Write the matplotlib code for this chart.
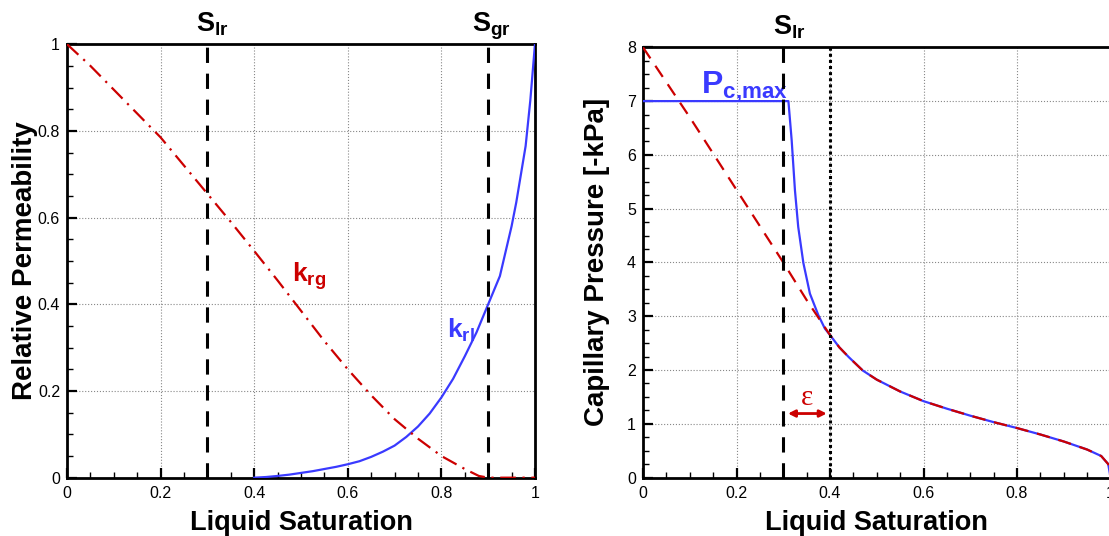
import matplotlib
matplotlib.use("Agg")
import matplotlib.pyplot as plt
from matplotlib.ticker import MultipleLocator, FuncFormatter

plt.rcParams["font.family"] = "Liberation Sans"
plt.rcParams["mathtext.fontset"] = "custom"
plt.rcParams["mathtext.rm"] = "Liberation Sans:bold"
plt.rcParams["mathtext.bf"] = "Liberation Sans:bold"
plt.rcParams["mathtext.it"] = "Liberation Sans:bold"
plt.rcParams["mathtext.default"] = "bf"

RED = "#cc0000"
BLUE = "#3a3aff"

# relative permeability curves (left panel)
s_krg = [0, 0.05, 0.1, 0.15, 0.2, 0.25, 0.3, 0.35, 0.4, 0.45, 0.5, 0.55,
         0.6, 0.65, 0.7, 0.75, 0.8, 0.85, 0.88, 0.9, 1.0]
krg = [1.0, 0.95, 0.895, 0.84, 0.785, 0.72, 0.655, 0.59, 0.523, 0.455, 0.385,
       0.315, 0.25, 0.19, 0.135, 0.09, 0.05, 0.02, 0.004, 0.0, 0.0]

s_krl = [0.4, 0.425, 0.45, 0.475, 0.5, 0.525, 0.55, 0.575, 0.6, 0.625, 0.65,
         0.675, 0.7, 0.725, 0.75, 0.775, 0.8, 0.825, 0.85, 0.875, 0.9, 0.925,
         0.95, 0.96, 0.97, 0.98, 0.99, 1.0]
krl = [0.0, 0.0015, 0.004, 0.007, 0.011, 0.015, 0.02, 0.025, 0.031, 0.038,
       0.048, 0.06, 0.074, 0.094, 0.118, 0.148, 0.185, 0.228, 0.28, 0.335,
       0.40, 0.465, 0.58, 0.635, 0.70, 0.765, 0.87, 1.0]

s_lr, s_gr = 0.3, 0.9

# capillary pressure (right panel)
s_pc_head = [0, 0.1, 0.2, 0.3, 0.35]
pc_head = [8.0, 6.7, 5.35, 4.0, 3.3]
s_pcmax = [0, 0.311, 0.318, 0.325, 0.332, 0.343, 0.357, 0.375, 0.389]
pcmax = [7.0, 7.0, 6.27, 5.34, 4.66, 3.99, 3.42, 3.02, 2.77]
s_tail = [0.4, 0.42, 0.44, 0.47, 0.5, 0.55, 0.6, 0.65, 0.7, 0.75, 0.8, 0.85,
          0.9, 0.95, 0.98, 0.995, 1.0]
pc_tail = [2.65, 2.42, 2.24, 1.99, 1.82, 1.6, 1.42, 1.28, 1.15, 1.03, 0.92,
           0.8, 0.67, 0.52, 0.4, 0.25, 0.0]
s_eps = 0.4


def style_axes(ax, ymajor, yminor):
    ax.set_xlim(0, 1)
    ax.xaxis.set_major_locator(MultipleLocator(0.2))
    ax.xaxis.set_minor_locator(MultipleLocator(0.05))
    ax.yaxis.set_major_locator(MultipleLocator(ymajor))
    ax.yaxis.set_minor_locator(MultipleLocator(yminor))
    fmt = FuncFormatter(lambda v, p: "%g" % round(v, 3))
    ax.xaxis.set_major_formatter(fmt)
    ax.yaxis.set_major_formatter(fmt)
    ax.tick_params(which="both", direction="in", top=False, right=False,
                   labelsize=11.5)
    ax.tick_params(axis="x", pad=6)
    ax.tick_params(axis="y", pad=5)
    ax.tick_params(which="major", length=7, width=1.6)
    ax.tick_params(which="minor", length=4, width=1.0)
    for sp in ax.spines.values():
        sp.set_linewidth(2)
    ax.grid(True, which="major", color="#888888", ls=":", lw=0.8)
    ax.set_axisbelow(True)


fig = plt.figure(figsize=(11.09, 5.36), dpi=100)

# ---- left panel
ax1 = fig.add_axes([0.0604, 0.1088, 0.4220, 0.8088])
style_axes(ax1, 0.2, 0.05)
ax1.set_ylim(0, 1)
ax1.plot(s_krl, krl, color=BLUE, lw=1.6, zorder=3)
ax1.plot(s_krg, krg, color=RED, lw=1.6, dashes=(7, 3, 1, 3), zorder=3)
for s in (s_lr, s_gr):
    ax1.axvline(s, color="black", lw=2.2, dashes=(5, 3.5), zorder=4)
ax1.text(0.276, 1.03, r"$S_{lr}$", transform=ax1.get_xaxis_transform(),
         fontsize=19.5, ha="left", va="baseline")
ax1.text(0.865, 1.03, r"$S_{gr}$", transform=ax1.get_xaxis_transform(),
         fontsize=19.5, ha="left", va="baseline")
ax1.text(0.48, 0.452, r"$k_{rg}$", color=RED, fontsize=19, ha="left", va="baseline")
ax1.text(0.811, 0.322, r"$k_{rl}$", color=BLUE, fontsize=19, ha="left", va="baseline")
ax1.set_xlabel("Liquid Saturation", fontsize=19.5, fontweight="bold", va="center")
ax1.set_ylabel("Relative Permeability", fontsize=20, fontweight="bold", va="center")
ax1.xaxis.set_label_coords(0.5, -0.105)
ax1.yaxis.set_label_coords(-0.09, 0.5)

# ---- right panel
ax2 = fig.add_axes([0.5798, 0.1091, 0.4216, 0.8026])
style_axes(ax2, 1, 0.25)
ax2.set_ylim(0, 8)
ax2.plot(s_pcmax + s_tail, pcmax + pc_tail, color=BLUE, lw=1.6, zorder=3)
ax2.plot(s_pc_head + s_tail, pc_head + pc_tail, color=RED, lw=1.6,
         dashes=(6, 4), zorder=4)
ax2.axvline(s_lr, color="black", lw=2.2, dashes=(5, 3.5), zorder=5)
ax2.axvline(s_eps, color="black", lw=2.2, dashes=(1, 1), zorder=5)
ax2.text(0.277, 1.03, r"$S_{lr}$", transform=ax2.get_xaxis_transform(),
         fontsize=19.5, ha="left", va="baseline")
ax2.text(0.125, 7.15, r"$P_{c{,}max}$", color=BLUE, fontsize=23, ha="left", va="baseline")
ax2.annotate("", xy=(0.393, 1.19), xytext=(0.31, 1.19),
             arrowprops=dict(arrowstyle="<|-|>", color=RED, lw=2, mutation_scale=10,
                             shrinkA=0, shrinkB=0))
ax2.text(0.351, 1.47, "ε", color=RED, fontsize=21, family="Liberation Serif",
         ha="center", va="center")
ax2.set_xlabel("Liquid Saturation", fontsize=19.5, fontweight="bold", va="center")
ax2.set_ylabel("Capillary Pressure [-kPa]", fontsize=20, fontweight="bold", va="center")
ax2.xaxis.set_label_coords(0.5, -0.105)
ax2.yaxis.set_label_coords(-0.098, 0.5)

fig.savefig("out.png", dpi=100)
